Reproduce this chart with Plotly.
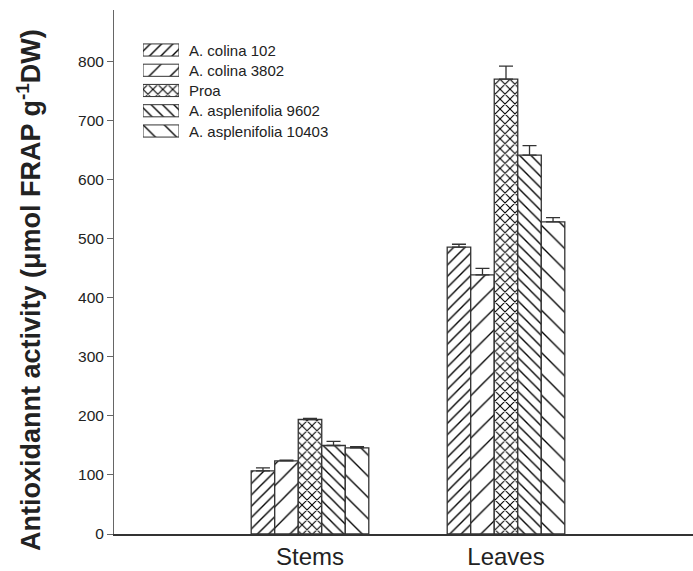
import plotly.graph_objects as go

groups = ["Stems", "Leaves"]
group_pos = [1, 2]
series = ["A. colina 102", "A. colina 3802", "Proa", "A. asplenifolia 9602", "A. asplenifolia 10403"]
values = {
    "A. colina 102": [107, 486],
    "A. colina 3802": [124, 439],
    "Proa": [194, 771],
    "A. asplenifolia 9602": [150, 642],
    "A. asplenifolia 10403": [146, 529],
}
errors = {
    "A. colina 102": [5, 5],
    "A. colina 3802": [1, 11],
    "Proa": [2, 22],
    "A. asplenifolia 9602": [7, 16],
    "A. asplenifolia 10403": [2, 7],
}
y_ticks = [0, 100, 200, 300, 400, 500, 600, 700, 800]

patterns = {
    "A. colina 102": ("/", 8, 0.17),
    "A. colina 3802": ("/", 15, 0.09),
    "Proa": ("x", 7, 0.28),
    "A. asplenifolia 9602": ("\\", 8, 0.17),
    "A. asplenifolia 10403": ("\\", 15, 0.09),
}

FONT = "Arial, Liberation Sans, sans-serif"
fig = go.Figure()


def make_pat(s):
    shp, sz, sol = patterns[s]
    return dict(shape=shp, size=sz, solidity=sol, fgcolor="#000", bgcolor="white", fillmode="replace")


for s in series:
    fig.add_trace(go.Bar(
        x=group_pos, y=values[s], name=s, showlegend=False,
        marker=dict(color="white", pattern=make_pat(s), line=dict(color="#333", width=1.3)),
        error_y=dict(type="data", array=errors[s], arrayminus=[0] * len(errors[s]), symmetric=False,
                     color="#333", thickness=1.3, width=7),
    ))

# custom legend swatches
for s in series:
    fig.add_trace(go.Bar(
        x=[1], y=[s], orientation="h", xaxis="x2", yaxis="y2", showlegend=False,
        width=0.6, offset=-0.3, hoverinfo="skip",
        marker=dict(color="white", pattern=make_pat(s), line=dict(color="#333", width=1)),
    ))

W, H = 693, 571
ml, mr, mt, mb = 114, 0, 10, 37
pw = W - ml - mr
ph = H - mt - mb


def px_x(x):
    return (x - ml) / pw


def px_y(y):
    return (H - mb - y) / ph


rows_y = [50 + 20.25 * i for i in range(5)]
for s, ry in zip(series, rows_y):
    fig.add_annotation(x=px_x(187), y=px_y(ry), xref="paper", yref="paper", text=s,
                       showarrow=False, xanchor="left", yanchor="middle",
                       font=dict(family=FONT, size=15, color="#222"))

fig.add_annotation(x=0, xref="paper", xshift=-(ml - 29), y=px_y(290), yref="paper",
                   text="Antioxidannt activity (μmol FRAP g<sup>-1</sup>DW)", textangle=-90,
                   showarrow=False, xanchor="center", yanchor="middle",
                   font=dict(family=FONT, size=27, color="#222", weight="bold"))

fig.update_layout(
    width=W, height=H,
    margin=dict(l=ml, r=mr, t=mt, b=mb, pad=0, autoexpand=False),
    paper_bgcolor="white", plot_bgcolor="white",
    barmode="group", bargap=0.4, bargroupgap=0,
    showlegend=False,
    xaxis=dict(range=[0, pw / 196.0], tickvals=group_pos, ticktext=groups, showgrid=False,
               zeroline=False, showline=True, linecolor="#333", linewidth=1.5, ticks="",
               ticklabelstandoff=0, automargin=False,
               tickfont=dict(family=FONT, size=24, color="#222")),
    yaxis=dict(range=[0, 888], tickvals=y_ticks, showgrid=False, zeroline=False, automargin=False,
               showline=True, linecolor="#666", linewidth=1, ticks="outside", ticklen=6,
               tickcolor="#666", tickfont=dict(family=FONT, size=15.5, color="#222")),
    xaxis2=dict(domain=[px_x(143), px_x(179)], range=[0, 1], visible=False, anchor="y2", fixedrange=True),
    yaxis2=dict(domain=[px_y(50 + 20.25 * 4 + 10.125), px_y(50 - 10.125)], type="category",
                categoryorder="array", categoryarray=series, autorange="reversed",
                visible=False, anchor="x2", fixedrange=True),
)

fig.write_html("out.html", config={"displayModeBar": False},
               post_script="document.body.style.margin='0';document.body.style.overflow='hidden';")
